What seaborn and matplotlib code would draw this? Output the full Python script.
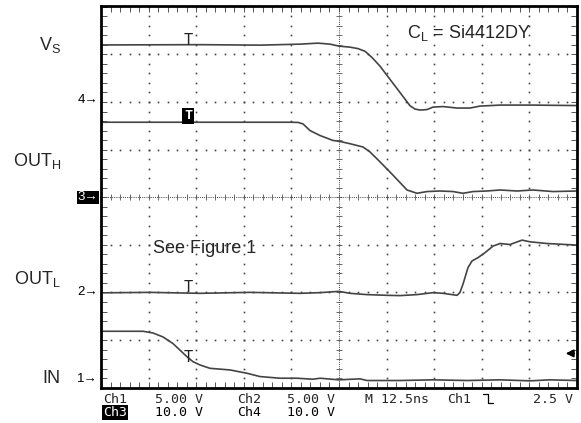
import numpy as np
import pandas as pd
import matplotlib
matplotlib.use("Agg")
import matplotlib.pyplot as plt
from matplotlib.lines import Line2D
import seaborn as sns

# Scope capture: time in ns (12.5 ns/div), level in screen divisions
vs_t = [-62.5, -36.5, -20.75, -10.24, -5.51, -2.36, 0.0, 2.89, 4.99, 6.83, 8.67, 10.77,
        13.39, 16.02, 18.65, 19.96, 21.27, 23.11, 24.69, 27.31, 30.99, 34.40, 37.03,
        42.28, 50.95, 62.5]
vs_y = [3.198, 3.204, 3.194, 3.215, 3.236, 3.215, 3.173, 3.152, 3.121, 3.065, 2.934, 2.753,
        2.476, 2.199, 1.921, 1.852, 1.831, 1.841, 1.893, 1.904, 1.873, 1.873, 1.914,
        1.935, 1.935, 1.925]

outh_t = [-62.5, -36.5, -12.87, -10.77, -9.45, -7.62, -4.99, -1.58, 0.26, 2.89, 6.30, 8.14,
          10.77, 14.18, 17.86, 20.48, 23.11, 26.52, 29.94, 32.56, 35.19, 38.87, 42.28,
          46.74, 50.95, 56.20, 62.5]
outh_y = [1.575, 1.575, 1.575, 1.571, 1.540, 1.400, 1.296, 1.192, 1.171, 1.124, 1.055, 0.951,
          0.743, 0.464, 0.152, 0.083, 0.119, 0.131, 0.119, 0.083, 0.119, 0.131, 0.152,
          0.131, 0.152, 0.119, 0.131]

outl_t = [-62.5, -49.63, -36.5, -23.37, -10.24, -4.99, 0.0, 2.89, 7.35, 12.61, 16.02, 20.48,
          24.69, 27.31, 30.99, 31.78, 32.56, 33.88, 34.93, 36.50, 38.34, 40.44, 42.28,
          44.91, 48.06, 50.16, 54.62, 62.5]
outl_y = [-2.008, -1.998, -2.018, -1.998, -2.018, -2.004, -1.977, -2.018, -2.045, -2.060,
          -2.066, -2.045, -2.004, -2.018, -2.060, -1.998, -1.825, -1.477, -1.338, -1.269,
          -1.165, -1.026, -0.972, -0.993, -0.901, -0.936, -0.972, -1.005]

in_t = [-62.5, -51.47, -48.85, -46.22, -43.60, -41.76, -39.92, -38.34, -36.50, -33.87,
        -28.62, -24.16, -20.75, -15.49, -11.03, -6.83, -4.99, 0.0, 5.51, 7.35, 16.02,
        24.69, 33.61, 42.28, 50.16, 55.41, 62.5]
in_y = [-2.815, -2.815, -2.851, -2.934, -3.073, -3.211, -3.350, -3.454, -3.523, -3.593,
        -3.627, -3.697, -3.766, -3.801, -3.801, -3.822, -3.801, -3.835, -3.814, -3.849,
        -3.849, -3.835, -3.849, -3.835, -3.856, -3.835, -3.849]

# trace names, ground markers and label baselines
trace_names = [r"V$_\mathrm{S}$", r"OUT$_\mathrm{H}$", r"OUT$_\mathrm{L}$", "IN"]
label_y = [3.10, 0.666, -1.83, -3.91]
ground_labels = ["4", "3", "2", "1"]
ground_y = [2.05, 0.0, -2.0, -3.81]
trig_t = -39.65
trig_y = [3.20, 1.575, -2.0, -3.45]

status_row1 = [("Ch1", 103), ("5.00 V", 155), ("Ch2", 237), ("5.00 V", 287),
               ("M 12.5ns", 365), ("Ch1", 447), ("2.5 V", 533)]
status_row2 = [("Ch3", 103), ("10.0 V", 155), ("Ch4", 237), ("10.0 V", 287)]

sns.set_style("white")
plt.rcParams["font.family"] = ["Liberation Sans", "DejaVu Sans"]
plt.rcParams["mathtext.fontset"] = "custom"
plt.rcParams["mathtext.rm"] = "Liberation Sans"
plt.rcParams["mathtext.it"] = "Liberation Sans:italic"

W, H = 581, 423
fig = plt.figure(figsize=(W / 100, H / 100), dpi=100)
ax = fig.add_axes([101 / W, 1 - 387.7 / H, 476 / W, (387.7 - 6) / H])

x_lo, x_hi = -62.5, 62.5
y_lo, y_hi = -3.926, 4.016
ax.set_xlim(x_lo, x_hi)
ax.set_ylim(y_lo, y_hi)

# graticule: dotted division lines
sub_x = np.arange(-62.5, 62.51, 2.5)
sub_y = np.arange(-4, 4.01, 0.2)
for gx in np.arange(-50, 51, 12.5):
    if abs(gx) < 1e-9:
        continue
    ax.plot(np.full_like(sub_y, gx), sub_y, ls="", marker="s", ms=1.2, color="#444444", mew=0)
for gy in [-3, -2, -1, 1, 2, 3]:
    ax.plot(sub_x, np.full_like(sub_x, gy), ls="", marker="s", ms=1.2, color="#444444", mew=0)
# centre cross
ax.axhline(0, ls=(0, (1, 1.2)), lw=0.7, color="#444444")
ax.axvline(0, ls=(0, (1, 1.2)), lw=0.7, color="#444444")
ax.plot(sub_x, np.zeros_like(sub_x), ls="", marker="|", ms=5, mew=0.6, color="#555555")
ax.plot(np.zeros_like(sub_y), sub_y, ls="", marker="_", ms=5, mew=0.6, color="#555555")

ax.set_xticks(np.arange(-62.5, 62.6, 12.5))
ax.set_yticks(np.arange(-4, 4.1, 1))
ax.set_xticks(sub_x, minor=True)
ax.set_yticks(sub_y, minor=True)
ax.tick_params(which="both", direction="in", length=4, width=0.7, color="#555555",
               top=True, right=True, bottom=True, left=True,
               labelbottom=False, labelleft=False)
for s in ax.spines.values():
    s.set_linewidth(2)
    s.set_color("black")

traces = [(vs_t, vs_y), (outh_t, outh_y), (outl_t, outl_y), (in_t, in_y)]
for t, y in traces:
    df = pd.DataFrame({"t": t, "v": y})
    sns.lineplot(data=df, x="t", y="v", ax=ax, color="#444444", lw=1.2,
                 sort=False, estimator=None)
ax.set_xlabel("")
ax.set_ylabel("")

# trigger position markers
for i, ty in enumerate(trig_y):
    if i == 1:
        ax.text(trig_t, ty + 0.06, "T", family="DejaVu Sans Mono", fontsize=9.5,
                fontweight="bold", color="white", ha="center", va="baseline",
                bbox=dict(boxstyle="square,pad=0.12", fc="black", ec="none"))
    else:
        ax.text(trig_t, ty, "T", family="DejaVu Sans Mono", fontsize=11,
                color="#222222", ha="center", va="baseline")

# trigger level arrow
ax.annotate("", xy=(58.8, -3.28), xytext=(62.5, -3.28),
            arrowprops=dict(arrowstyle="-|>", color="black", lw=1.3, mutation_scale=11))

trans = ax.get_yaxis_transform()
for name, ly in zip(trace_names, label_y):
    ax.text((61 - 101) / 476, ly, name, transform=trans, ha="right", va="baseline",
            fontsize=13, clip_on=False)
for g, gy in zip(ground_labels, ground_y):
    kw = {}
    col = "black"
    if g == "3":
        col = "white"
        kw["bbox"] = dict(boxstyle="square,pad=0.05", fc="black", ec="none")
    ax.text(-0.006, gy, g + "\u2192", transform=trans, ha="right", va="center",
            fontsize=9.5, color=col, clip_on=False, **kw)

ax.text(17.86, 3.35, r"C$_\mathrm{L}$ = Si4412DY", fontsize=13, ha="left", va="baseline")
ax.text(-48.85, -1.165, "See Figure 1", fontsize=13, ha="left", va="baseline")

# status lines under the graticule
for txt, px in status_row1:
    fig.text(px / W, 1 - 403 / H, txt, family="DejaVu Sans Mono", fontsize=9.5,
             ha="left", va="baseline")
for txt, px in status_row2:
    kw = {}
    col = "black"
    if txt == "Ch3":
        col = "white"
        kw["bbox"] = dict(boxstyle="square,pad=0.05", fc="black", ec="none")
    fig.text(px / W, 1 - 416 / H, txt, family="DejaVu Sans Mono", fontsize=9.5,
             ha="left", va="baseline", color=col, **kw)
# falling-edge trigger glyph
edge = Line2D(np.array([483, 488, 488, 493]) / W, 1 - np.array([394, 394, 403, 403]) / H,
              transform=fig.transFigure, color="black", lw=0.9)
fig.add_artist(edge)

fig.savefig("out.png", dpi=100)
